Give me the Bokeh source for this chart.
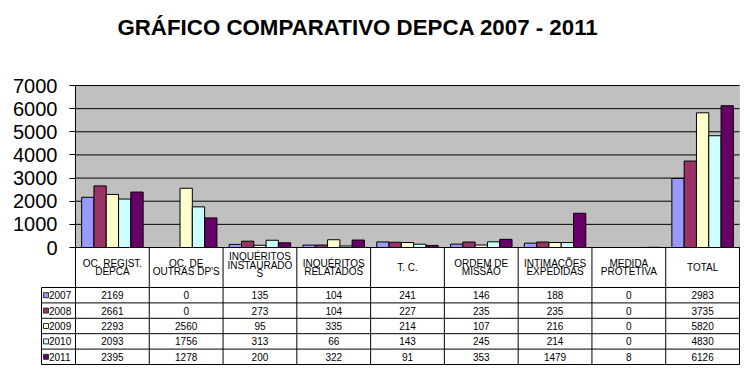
from bokeh.plotting import figure
from bokeh.models import Range1d, FixedTicker, BoxAnnotation, ColumnDataSource
from bokeh.transform import dodge
from bokeh.embed import file_html
from bokeh.resources import INLINE
from bokeh.core.properties import value

# ---------------- data ----------------
categories = ["OC. REGIST.\nDEPCA", "OC. DE\nOUTRAS DP'S", "INQUÉRITOS\nINSTAURADO\nS",
              "INQUÉRITOS\nRELATADOS", "T. C.", "ORDEM DE\nMISSÃO",
              "INTIMAÇÕES\nEXPEDIDAS", "MEDIDA\nPROTETIVA", "TOTAL"]
years = ["2007", "2008", "2009", "2010", "2011"]
v2007 = [2169, 0, 135, 104, 241, 146, 188, 0, 2983]
v2008 = [2661, 0, 273, 104, 227, 235, 235, 0, 3735]
v2009 = [2293, 2560, 95, 335, 214, 107, 216, 0, 5820]
v2010 = [2093, 1756, 313, 66, 143, 245, 214, 0, 4830]
v2011 = [2395, 1278, 200, 322, 91, 353, 1479, 8, 6126]
series = [v2007, v2008, v2009, v2010, v2011]
colors = ["#9999FF", "#993366", "#FFFFCC", "#CCFFFF", "#660066"]
y_ticks = [0, 1000, 2000, 3000, 4000, 5000, 6000, 7000]
y_max = 7000
title_text = "GRÁFICO COMPARATIVO DEPCA 2007 - 2011"

FONT = "Liberation Sans"
n_cat = len(categories)
n_row = len(years)

# ---------------- layout (pixels) ----------------
W, H = 742, 375
AX_X, RIGHT_X = 75, 739      # y axis / right edge of plot area
TOP_Y, BASE_Y = 85, 247      # 7000 line / 0 line
LEG_X = 41                   # left edge of legend column
HEAD_B = 287                 # bottom of table header
ROW_H = 15.4                 # table row height
TITLE_X, TITLE_Y = 357.5, 27 # title centre

cat_w = (RIGHT_X - AX_X) / n_cat
upp = y_max / (BASE_Y - TOP_Y)   # data units per pixel


def X(px):
    return (px - AX_X) / cat_w


def Y(py):
    return (BASE_Y - py) * upp


p = figure(x_range=Range1d(X(0), X(W)), y_range=Range1d(Y(H), Y(0)),
           width=W, height=H, min_border=0,
           output_backend="svg", toolbar_location=None,
           background_fill_color="white", border_fill_color="white",
           outline_line_color=None)
p.min_border_left = 0
p.min_border_right = 0
p.min_border_top = 0
p.min_border_bottom = 0

# plot area background
p.add_layout(BoxAnnotation(left=0, right=n_cat, bottom=0, top=y_max,
                           fill_color="#C0C0C0", fill_alpha=1.0,
                           line_color="#808080", line_width=1, level="underlay"))
# horizontal grid lines
p.segment(x0=[0] * len(y_ticks), y0=y_ticks, x1=[n_cat] * len(y_ticks), y1=y_ticks,
          line_color="black", line_width=1)

xs = [i + 0.5 for i in range(n_cat)]
for k, (yr, vals, col) in enumerate(zip(years, series, colors)):
    src = ColumnDataSource(dict(x=xs, top=vals))
    p.vbar(x=dodge("x", (k - 2) / 6), top="top", width=1 / 6,
           fill_color=col, line_color="black", line_width=1, source=src)

p.xaxis.visible = False
p.grid.visible = False
p.yaxis.fixed_location = 0
p.yaxis.ticker = FixedTicker(ticks=y_ticks)
p.yaxis.major_label_text_font = FONT
p.yaxis.major_label_text_font_size = "20px"
p.yaxis.major_label_text_color = "black"
p.yaxis.major_tick_out = 6
p.yaxis.major_tick_in = 0
p.yaxis.minor_tick_out = 0
p.yaxis.minor_tick_in = 0
p.yaxis.axis_line_color = None
p.yaxis.major_tick_line_color = "black"
p.yaxis.major_label_standoff = 12

# title
p.text(x=[X(TITLE_X)], y=[Y(TITLE_Y)], text=[title_text], text_align="center",
       text_baseline="middle", text_font=value(FONT), text_font_size="22.3px",
       text_font_style="bold", text_color="black")

# ---------------- data table ----------------
leg_x = X(LEG_X)
hb = Y(HEAD_B)
bottom = Y(HEAD_B + n_row * ROW_H)

# axis line (continues as table border)
p.segment(x0=[0], y0=[y_max], x1=[0], y1=[bottom], line_color="black", line_width=1)
# vertical lines
vx = list(range(1, n_cat + 1))
p.segment(x0=vx, y0=[0] * len(vx), x1=vx, y1=[bottom] * len(vx),
          line_color="black", line_width=1)
p.segment(x0=[leg_x], y0=[hb], x1=[leg_x], y1=[bottom], line_color="black", line_width=1)
# horizontal lines
hy = [Y(HEAD_B + r * ROW_H) for r in range(n_row + 1)]
p.segment(x0=[leg_x] * len(hy), y0=hy, x1=[n_cat] * len(hy), y1=hy,
          line_color="black", line_width=1)
p.segment(x0=[0], y0=[0], x1=[n_cat], y1=[0], line_color="black", line_width=1)

# header text
tx, ty, tt = [], [], []
head_c = (BASE_Y + HEAD_B) / 2
for i, c in enumerate(categories):
    lines = c.split("\n")
    n = len(lines)
    center = head_c - (2.5 if n >= 3 else 0)
    for j, ln in enumerate(lines):
        tx.append(i + 0.5)
        ty.append(Y(center + (j - (n - 1) / 2) * 8.6))
        tt.append(ln)
p.text(x=tx, y=ty, text=tt, text_align="center", text_baseline="middle",
       text_font=value(FONT), text_font_size="10px", text_color="black")

# values
dx, dy, dt = [], [], []
for k, vals in enumerate(series):
    for i, v in enumerate(vals):
        dx.append(i + 0.5)
        dy.append(Y(HEAD_B + (k + 0.5) * ROW_H))
        dt.append(str(v))
p.text(x=dx, y=dy, text=dt, text_align="center", text_baseline="middle",
       text_font=value(FONT), text_font_size="10px", text_color="black")

# legend column
ry = [Y(HEAD_B + (k + 0.5) * ROW_H) for k in range(n_row)]
p.scatter(x=[X(LEG_X + 4.5)] * n_row, y=ry, marker="square", size=5,
          fill_color=colors, line_color="#333333", line_width=1)
p.text(x=[X(LEG_X + 7.5)] * n_row, y=ry, text=years, text_align="left",
       text_baseline="middle", text_font=value(FONT), text_font_size="10px",
       text_color="black")

open("out.html", "w").write(file_html(p, INLINE))
